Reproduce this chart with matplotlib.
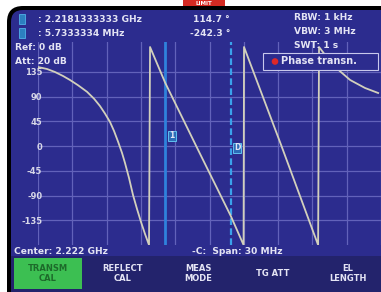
import numpy as np
import matplotlib
matplotlib.use('Agg')
import matplotlib.pyplot as plt
import matplotlib.patches as patches

# size in pixels
W, H = 381, 292

# trace data (frequency in MHz, phase in degrees)
freq_mhz = [2207.00, 2207.79, 2208.49, 2209.19, 2209.80, 2210.50, 2211.29,
            2211.90, 2212.42, 2212.86, 2213.30, 2213.65, 2214.00, 2214.35,
            2214.61, 2214.96, 2215.31, 2215.66, 2216.01, 2216.36, 2216.71,
            2216.80, 2218.13, 2221.00, 2223.87, 2224.98,
            2225.02, 2228.26, 2231.50,
            2231.58, 2232.80, 2234.30, 2235.60, 2236.75]
phase_deg = [143.6, 140.0, 134.5, 127.3, 120.0, 110.5, 98.5,
             86.0, 72.7, 59.0, 43.6, 27.3, 8.0, -12.7,
             -30.9, -58.2, -89.1, -114.5, -138.2, -160.0, -180.0,
             180.0, 114.7, -7.0, -127.6, -180.0,
             180.0, 2.0, -180.0,
             180.0, 147.0, 120.0, 105.5, 96.4]

center_mhz = 2222.0
span_mhz   = 30.0
marker_mhz = [2218.1333333, 2223.8666667]
yticks     = [135, 90, 45, 0, -45, -90, -135]
ytick_lbls = ['135', '90', '45', '0', '-45', '-90', '-135']
softkeys   = ['TRANSM\nCAL', 'REFLECT\nCAL', 'MEAS\nMODE', 'TG ATT', 'EL\nLENGTH']

# colours
screen = '#2c2c8e'
gridc  = '#6262ba'
tracec = '#d2d0bc'
textc  = '#e4e4f4'

fig = plt.figure(figsize=(W/100, H/100), dpi=100)
fig.patch.set_facecolor('white')

# background axes in pixel coords
bg = fig.add_axes([0, 0, 1, 1], zorder=0)
bg.set_xlim(0, W)
bg.set_ylim(H, 0)
bg.axis('off')
bg.add_patch(patches.FancyBboxPatch((7, 6), 420, 320,
             boxstyle='round,pad=0,rounding_size=16', fc='black', ec='none'))
bg.add_patch(patches.FancyBboxPatch((11, 10), 420, 320,
             boxstyle='round,pad=0,rounding_size=12', fc=screen, ec='none'))
bg.add_patch(patches.Rectangle((183, -2), 42, 8, fc='#d42a22', ec='none'))
bg.text(204, 3.2, 'LIMIT', color='white', fontsize=4, fontweight='bold',
        ha='center', va='center')
# softkey bar
bg.add_patch(patches.Rectangle((11, 256), 380, 40, fc='#23236c', ec='none'))
bg.add_patch(patches.Rectangle((14, 258), 68, 31, fc='#3cbf52', ec='none'))

# plot axes: x 38..381 px, y 42..245 px
x0, x1, y0, y1 = 38, 381, 42, 245
ax = fig.add_axes([x0/W, 1 - y1/H, (x1 - x0)/W, (y1 - y0)/H], zorder=1)
ax.set_facecolor('none')
ax.set_xlim(center_mhz - span_mhz/2, center_mhz + span_mhz/2)
ax.set_ylim(-180, 180 + 5/0.55)
ax.set_xticks(np.arange(center_mhz - span_mhz/2, center_mhz + span_mhz/2 + 0.1, 3.0))
ax.set_yticks(yticks)
ax.set_yticklabels(ytick_lbls)
ax.grid(True, color=gridc, lw=0.9)
ax.tick_params(axis='x', length=0, labelbottom=False)
ax.tick_params(axis='y', length=0, pad=-3, labelsize=6, labelcolor='#d8d8e8')
for lbl in ax.get_yticklabels():
    lbl.set_fontweight('bold')
for s in ax.spines.values():
    s.set_visible(False)

ax.axvline(marker_mhz[0], color='#2f82dc', lw=2.0)
ax.axvline(marker_mhz[1], color='#3aa2ea', lw=1.6, ls=(0, (3, 1.5)))
ax.plot(freq_mhz, phase_deg, color=tracec, lw=1.3)

# overlay axes for texts and boxes
ov = fig.add_axes([0, 0, 1, 1], zorder=3)
ov.set_facecolor('none')
ov.set_xlim(0, W)
ov.set_ylim(H, 0)
ov.axis('off')

def txt(x, y, s, **kw):
    kw.setdefault('color', textc)
    kw.setdefault('fontsize', 6.6)
    kw.setdefault('fontweight', 'bold')
    kw.setdefault('va', 'center')
    ov.text(x, y, s, **kw)

# marker icons
ov.add_patch(patches.Rectangle((19, 14), 6, 10, fc='#2c7fc0', ec='#50b0e8', lw=0.6))
ov.add_patch(patches.Rectangle((19, 28), 6, 10, fc='#2c7fc0', ec='#50b0e8', lw=0.6))
txt(38, 19, ': 2.2181333333 GHz')
txt(38, 33, ': 5.7333334 MHz')
txt(15, 47, 'Ref: 0 dB')
txt(15, 61, 'Att: 20 dB')
txt(230, 19, '114.7 \u00b0', ha='right')
txt(230, 33, '-242.3 \u00b0', ha='right')
txt(294, 18, 'RBW: 1 kHz')
txt(294, 32, 'VBW: 3 MHz')
txt(294, 46, 'SWT: 1 s')

# legend box
ov.add_patch(patches.Rectangle((263, 53), 115, 17, fc=screen, ec='#c8c8ec', lw=0.8))
ov.add_patch(patches.Circle((275, 61.5), 3.3, fc='#e02828', ec='none'))
txt(281, 61.5, 'Phase transn.', fontsize=7)

# marker flags
ov.add_patch(patches.Rectangle((168, 131), 8, 10, fc='#2c6cb8', ec='#60c0f0', lw=0.7))
txt(172, 136, '1', ha='center', fontsize=5.5)
ov.add_patch(patches.Rectangle((233, 143), 8, 10, fc='#2c6cb8', ec='#60c0f0', lw=0.7))
txt(237, 148, 'D', ha='center', fontsize=5.5)

# bottom line
txt(14, 251, 'Center: 2.222 GHz')
txt(192, 251, '-C:  Span: 30 MHz')

for i, key in enumerate(softkeys):
    col = '#1d6a2a' if i == 0 else textc
    txt(48 + 75*i, 273.5, key, ha='center', fontsize=6, color=col,
        linespacing=1.05, multialignment='center')

fig.savefig('out.png', dpi=100)
